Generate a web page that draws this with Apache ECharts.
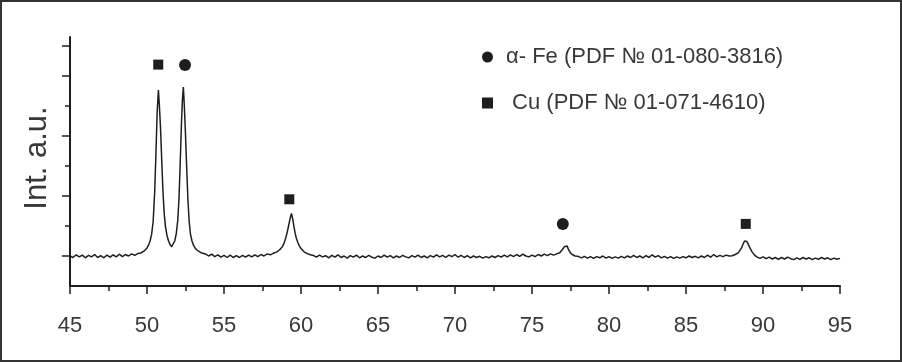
<!DOCTYPE html>
<html>
<head>
<meta charset="utf-8">
<script src="https://cdn.jsdelivr.net/npm/echarts@6/dist/echarts.min.js"></script>
<style>
html,body{margin:0;padding:0;background:#fff;}
#chart{width:902px;height:362px;}
</style>
</head>
<body>
<div id="chart"></div>
<script>
// 2θ (deg), intensity (a.u.)
const xrdPattern = [
[45.0,1.00],[45.2,0.95],[45.4,1.04],[45.6,0.97],[45.8,1.03],[46.0,0.94],[46.2,1.02],[46.4,0.97],[46.6,1.05],[46.8,0.95],
[47.0,1.01],[47.2,0.94],[47.4,1.03],[47.6,0.96],[47.8,1.04],[48.0,0.97],[48.2,1.06],[48.4,0.98],[48.6,1.05],[48.8,1.00],
[49.0,1.07],[49.2,1.02],[49.4,1.08],[49.6,1.10],[49.8,1.16],
[49.9,1.20],[50.0,1.27],[50.1,1.36],[50.2,1.50],[50.3,1.72],[50.4,2.15],[50.5,3.15],[50.58,4.40],[50.66,5.80],[50.74,6.53],
[50.8,6.05],[50.88,5.25],[50.96,4.15],[51.04,3.10],[51.12,2.40],[51.2,1.98],[51.3,1.68],[51.4,1.50],[51.5,1.38],[51.6,1.31],
[51.7,1.35],[51.8,1.50],[51.9,1.74],[52.0,2.20],[52.08,2.95],[52.16,4.15],[52.24,5.45],[52.3,6.20],[52.36,6.63],[52.42,6.05],
[52.5,5.05],[52.58,3.90],[52.66,2.85],[52.74,2.15],[52.82,1.74],[52.92,1.50],[53.02,1.36],[53.12,1.27],[53.24,1.20],[53.36,1.15],
[53.5,1.11],[53.6,1.08],
[53.8,1.07],[54.0,1.00],[54.2,1.06],[54.4,0.98],[54.6,1.04],[54.8,0.96],[55.0,1.02],[55.2,0.95],[55.4,1.03],[55.6,0.95],
[55.8,1.01],[56.0,0.95],[56.2,1.02],[56.4,0.96],[56.6,1.03],[56.8,0.97],[57.0,1.04],[57.2,0.98],[57.4,1.05],[57.6,1.00],
[57.8,1.07],[58.0,1.04],[58.2,1.09],
[58.4,1.13],[58.6,1.20],[58.8,1.32],[58.9,1.43],[59.0,1.58],[59.1,1.78],[59.2,2.02],[59.3,2.27],[59.38,2.42],[59.46,2.24],
[59.54,1.99],[59.62,1.76],[59.7,1.59],[59.8,1.44],[59.9,1.33],[60.0,1.25],[60.1,1.19],[60.2,1.14],[60.4,1.08],[60.6,1.04],
[60.8,1.02],[61.0,0.96],[61.2,1.03],[61.4,0.97],[61.6,1.01],[61.8,0.94],[62.0,1.02],[62.2,0.96],[62.4,1.04],[62.6,0.95],
[62.8,1.00],[63.0,0.93],[63.2,1.01],[63.4,0.96],[63.6,1.03],[63.8,0.94],[64.0,1.00],[64.2,0.95],[64.4,1.02],[64.6,0.96],
[64.8,0.93],[65.0,1.00],[65.2,0.95],[65.4,1.03],[65.6,0.96],[65.8,1.01],[66.0,0.94],[66.2,1.00],[66.4,0.95],[66.6,1.02],
[66.8,0.97],[67.0,0.94],[67.2,1.01],[67.4,0.96],[67.6,1.03],[67.8,0.95],[68.0,1.00],[68.2,0.94],[68.4,1.01],[68.6,0.96],
[68.8,1.04],[69.0,0.97],[69.2,1.02],[69.4,0.95],[69.6,1.03],[69.8,0.98],[70.0,1.05],[70.2,0.96],[70.4,1.02],[70.6,0.95],
[70.8,1.01],[71.0,0.94],[71.2,1.00],[71.4,0.95],[71.6,0.99],[71.8,0.93],[72.0,0.98],[72.2,0.94],[72.4,1.00],[72.6,0.95],
[72.8,1.01],[73.0,0.96],[73.2,1.03],[73.4,0.97],[73.6,1.04],[73.8,0.98],[74.0,1.05],[74.2,0.99],[74.4,1.06],[74.6,1.00],
[74.8,0.97],[75.0,1.03],[75.2,0.98],[75.4,1.05],[75.6,1.00],[75.8,1.06],[76.0,1.01],[76.2,1.07],[76.4,1.03],
[76.6,1.07],[76.8,1.11],[76.9,1.17],[77.0,1.23],[77.1,1.31],[77.2,1.36],[77.28,1.33],[77.36,1.23],[77.46,1.13],[77.6,1.05],
[77.8,1.00],
[78.0,0.99],[78.2,0.94],[78.4,0.99],[78.6,0.93],[78.8,0.98],[79.0,0.92],[79.2,0.98],[79.4,0.94],[79.6,1.00],[79.8,0.93],
[80.0,0.98],[80.2,0.92],[80.4,0.97],[80.6,0.93],[80.8,0.99],[81.0,0.94],[81.2,1.00],[81.4,0.95],[81.6,1.02],[81.8,0.95],
[82.0,1.00],[82.2,0.94],[82.4,1.01],[82.6,0.95],[82.8,1.04],[83.0,0.96],[83.2,1.01],[83.4,0.94],[83.6,0.99],[83.8,0.93],
[84.0,0.98],[84.2,0.92],[84.4,0.97],[84.6,0.93],[84.8,0.98],[85.0,0.94],[85.2,1.00],[85.4,0.95],[85.6,0.99],[85.8,0.94],
[86.0,1.00],[86.2,0.95],[86.4,1.03],[86.6,0.96],[86.8,1.05],[87.0,0.97],[87.2,1.02],[87.4,0.98],[87.6,1.03],[87.8,1.00],
[88.0,1.01],[88.2,1.05],[88.4,1.11],[88.5,1.17],[88.6,1.26],[88.7,1.39],[88.8,1.50],[88.88,1.55],[88.96,1.48],[89.06,1.37],
[89.16,1.26],[89.3,1.13],[89.45,1.03],[89.6,0.97],
[89.8,0.92],[90.0,0.97],[90.2,0.91],[90.4,0.96],[90.6,0.90],[90.8,0.95],[91.0,0.89],[91.2,0.95],[91.4,0.90],[91.6,0.96],
[91.8,0.91],[92.0,0.88],[92.2,0.94],[92.4,0.89],[92.6,0.95],[92.8,0.90],[93.0,0.94],[93.2,0.88],[93.4,0.93],[93.6,0.89],
[93.8,0.95],[94.0,0.90],[94.2,0.94],[94.4,0.88],[94.6,0.93],[94.8,0.89],[95.0,0.92]
];
// phase markers above the reflections
const feMarks = [[52.47,7.37],[77.0,2.07]];
const cuMarks = [[50.73,7.38],[59.24,2.89],[88.88,2.07]];
const feName = 'α- Fe (PDF № 01-080-3816)';
const cuName = ' Cu (PDF № 01-071-4610)';
const yAxisTitle = 'Int. a.u.';
const majorYTicks = [1,3,5,7,8];
const minorYTicks = [2,4,6];

const sans = "'Liberation Sans',Arial,sans-serif";
const ink = '#1e1e1e';
const txt = '#383838';

const chart = echarts.init(document.getElementById('chart'), null, {renderer:'canvas', width:902, height:362});
chart.setOption({
  animation:false,
  backgroundColor:'#fff',
  grid:{left:70, right:62, top:37, bottom:76},
  xAxis:{
    type:'value', min:45, max:95, interval:5,
    axisLine:{show:true, onZero:false, lineStyle:{color:ink, width:2}},
    axisTick:{show:true, inside:false, length:8, lineStyle:{color:ink, width:1.5}},
    minorTick:{show:true, splitNumber:2, length:5, lineStyle:{color:ink, width:1.5}},
    splitLine:{show:false},
    axisLabel:{margin:29, fontFamily:sans, fontSize:22, color:txt}
  },
  yAxis:[
    {
      type:'value', min:0, max:8.3,
      axisLine:{show:true, onZero:false, lineStyle:{color:ink, width:2}},
      axisTick:{show:true, inside:false, length:8, customValues:majorYTicks, lineStyle:{color:ink, width:1.5}},
      axisLabel:{show:false},
      splitLine:{show:false}
    },
    {
      type:'value', min:0, max:8.3, position:'left',
      axisLine:{show:false},
      axisTick:{show:true, inside:false, length:5, customValues:minorYTicks, lineStyle:{color:ink, width:1.5}},
      axisLabel:{show:false},
      splitLine:{show:false}
    }
  ],
  legend:{
    orient:'vertical', left:477, top:41, itemWidth:11, itemHeight:11, itemGap:24,
    textStyle:{fontFamily:sans, fontSize:22, color:txt, padding:[0,0,0,8]},
    data:[{name:feName, icon:'circle'},{name:cuName, icon:'rect'}]
  },
  graphic:[
    {type:'rect', shape:{x:1, y:1, width:900, height:360}, style:{fill:'none', stroke:'#333', lineWidth:2}, silent:true},
    {type:'text', x:37, y:158, rotation:Math.PI/2,
     style:{text:yAxisTitle, font:"31px 'Liberation Sans', Arial, sans-serif", fill:txt, align:'center', verticalAlign:'middle'}}
  ],
  series:[
    {type:'line', data:xrdPattern, showSymbol:false, symbol:'none', lineStyle:{color:ink, width:1.5}, silent:true, legendHoverLink:false},
    {type:'scatter', name:feName, data:feMarks, symbol:'circle', symbolSize:12, itemStyle:{color:ink, opacity:1}},
    {type:'scatter', name:cuName, data:cuMarks, symbol:'rect', symbolSize:10, itemStyle:{color:ink, opacity:1}}
  ]
});
</script>
</body>
</html>
